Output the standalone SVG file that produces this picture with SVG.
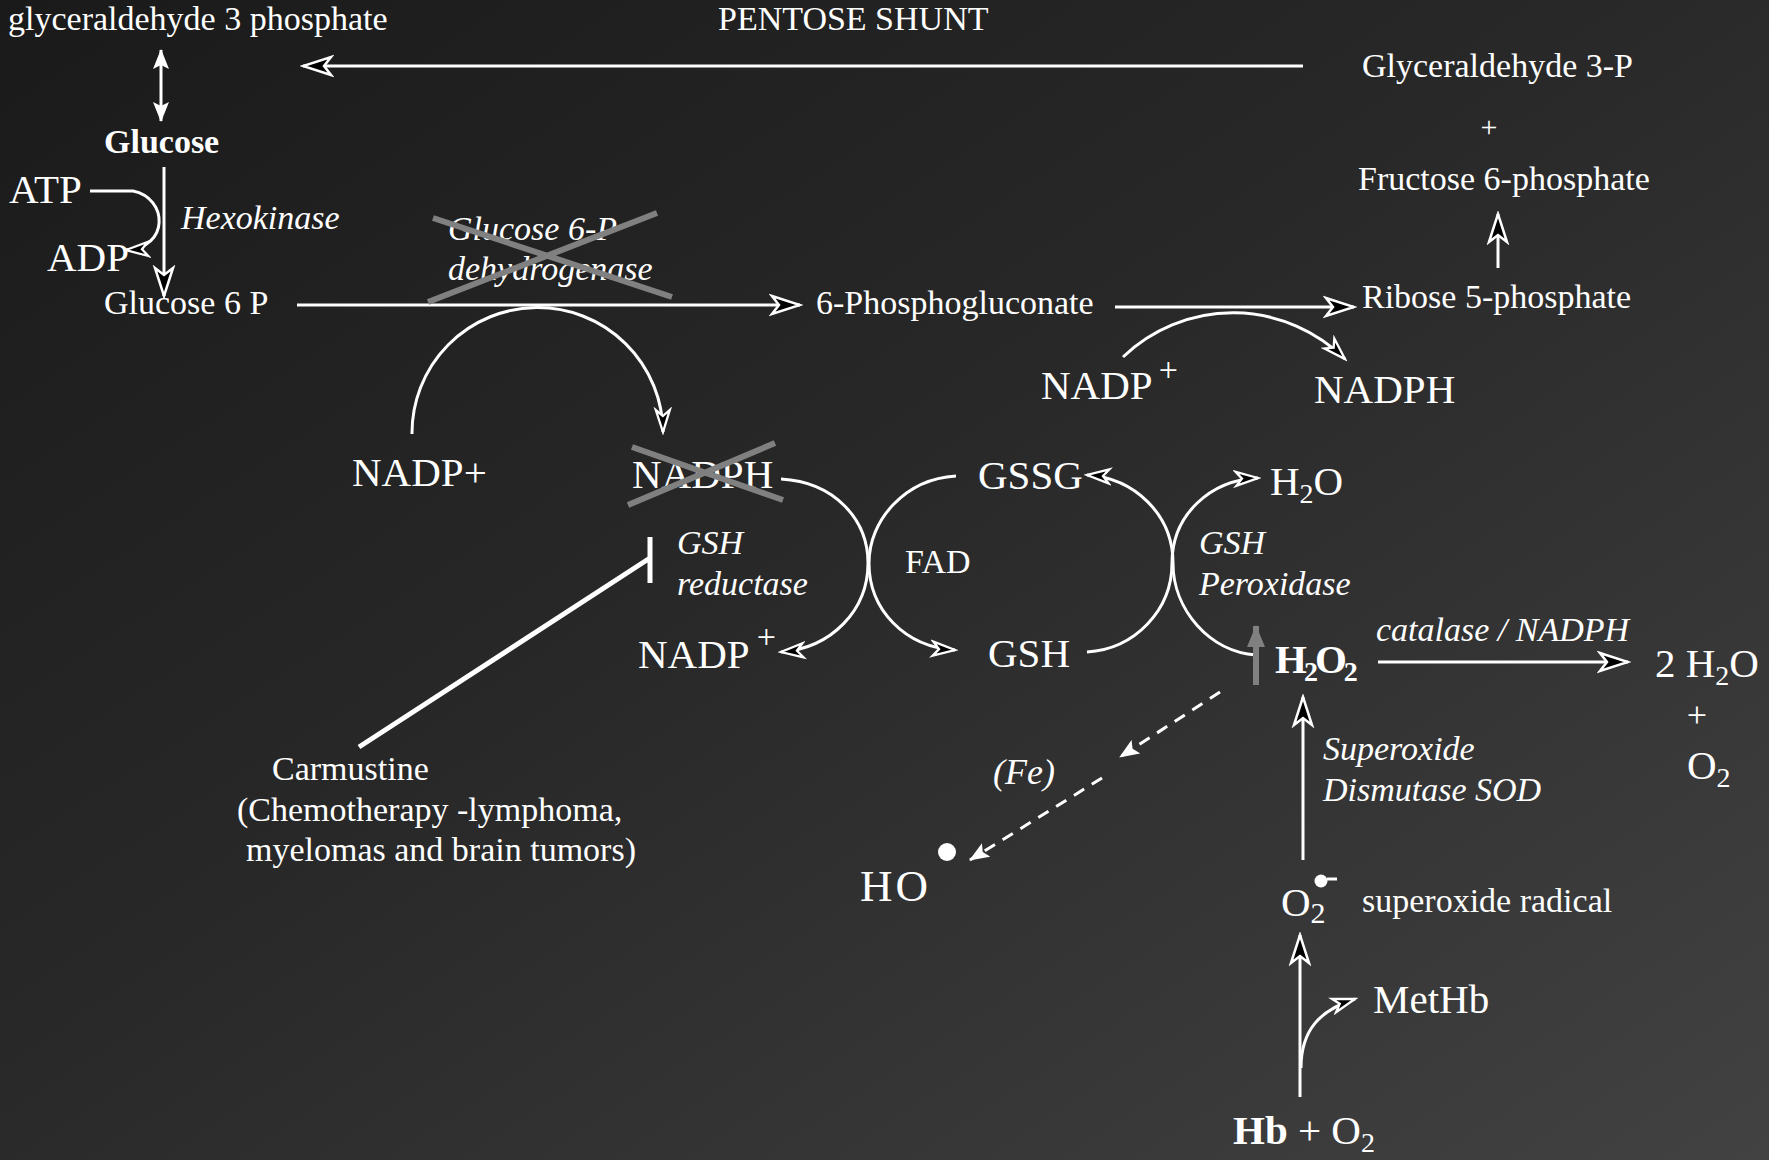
<svg xmlns="http://www.w3.org/2000/svg" width="1769" height="1160" viewBox="0 0 1769 1160">
<defs>
<linearGradient id="bg" x1="0" y1="0" x2="1" y2="1">
<stop offset="0" stop-color="#1a1a1a"/>
<stop offset="0.45" stop-color="#282828"/>
<stop offset="1" stop-color="#424242"/>
</linearGradient>
<marker id="ah" markerUnits="userSpaceOnUse" viewBox="-3 -3 34 24" markerWidth="34" markerHeight="24" refX="28" refY="9" orient="auto">
<path d="M0,0 L28,9 L0,18 L7,9 Z" fill="#000" stroke="#fff" stroke-width="2.5" stroke-linejoin="miter"/>
</marker>
<marker id="ahs" markerUnits="userSpaceOnUse" viewBox="-3 -3 28 20" markerWidth="28" markerHeight="20" refX="22" refY="7" orient="auto">
<path d="M0,0 L22,7 L0,14 L6,7 Z" fill="#000" stroke="#fff" stroke-width="2.3"/>
</marker>
<marker id="wt" markerUnits="userSpaceOnUse" viewBox="0 0 20 16" markerWidth="20" markerHeight="16" refX="19" refY="8" orient="auto-start-reverse">
<path d="M0,0 L20,8 L0,16 L4,8 Z" fill="#fff"/>
</marker>
<marker id="gt" markerUnits="userSpaceOnUse" viewBox="0 0 22 18" markerWidth="22" markerHeight="18" refX="21" refY="9" orient="auto">
<path d="M0,0 L22,9 L0,18 Z" fill="#808080"/>
</marker>
</defs>
<style>
text{font-family:"Liberation Serif","Times New Roman",serif;fill:#fff;font-size:34px}
.b{font-weight:bold}
.i{font-style:italic}
.L{font-size:41px}
.XL{font-size:45px}
.sub{font-size:28px}
.sup{font-size:34px}
.p30{font-size:30px}
.p36{font-size:36px}
.c{fill:none;stroke:#fff;stroke-width:3}
.x{stroke:#808080;stroke-width:6;fill:none}
</style>
<rect width="1769" height="1160" fill="url(#bg)"/>

<g id="connectors">
<path class="c" d="M161,121 V50" marker-start="url(#wt)" marker-end="url(#wt)"/>
<path class="c" d="M1303,66 H303" marker-end="url(#ah)"/>
<path class="c" d="M90,191 H133 C168,198 170,248 126,250" marker-end="url(#ahs)"/>
<path class="c" d="M164,167 V296" marker-end="url(#ah)"/>
<path class="c" d="M297,305 H800" marker-end="url(#ah)"/>
<path class="c" d="M412,434 A125,125 0 0 1 663,432" marker-end="url(#ahs)"/>
<path class="c" d="M1115,307 H1354" marker-end="url(#ah)"/>
<path class="c" d="M1123,357 A159,159 0 0 1 1345,359" marker-end="url(#ahs)"/>
<path class="c" d="M1498,268 V214" marker-end="url(#ah)"/>
<path class="c" d="M781,479 C835,482 868,520 868,563 C868,610 832,648 781,652" marker-end="url(#ahs)"/>
<path class="c" d="M956,476 C905,479 869,520 869,563 C869,610 905,647 955,650" marker-end="url(#ahs)"/>
<path class="c" d="M1087,652 C1135,649 1172,610 1172,563 C1172,515 1210,480 1258,478" marker-end="url(#ahs)"/>
<path class="c" d="M1256,655 C1210,652 1173,610 1173,563 C1173,515 1135,478 1087,475" marker-end="url(#ahs)"/>
<path class="c" d="M359,747 L650,558 M650,537 V583" style="stroke-width:5"/>
<path d="M1256,685 V626" stroke="#808080" stroke-width="6" marker-end="url(#gt)"/>
<path class="c" d="M1378,662 H1628" marker-end="url(#ah)"/>
<path class="c" d="M1220,692 L1120,757" stroke-dasharray="12,9" marker-end="url(#wt)"/>
<path class="c" d="M1102,778 L970,860" stroke-dasharray="12,9" marker-end="url(#wt)"/>
<path class="c" d="M1303,860 V697" marker-end="url(#ah)"/>
<path class="c" d="M1300,1097 V935" marker-end="url(#ah)"/>
<path class="c" d="M1301,1068 C1301,1030 1320,1010 1355,999" marker-end="url(#ahs)"/>
</g>

<g id="g3p-left"><text x="8" y="30">glyceraldehyde 3 phosphate</text></g>
<g id="pentose-shunt"><text x="718" y="30">PENTOSE SHUNT</text></g>
<g id="g3p-right"><text x="1362" y="77">Glyceraldehyde 3-P</text></g>
<g id="plus-top"><text class="p30" x="1489" y="137" text-anchor="middle">+</text></g>
<g id="f6p"><text x="1358" y="190">Fructose 6-phosphate</text></g>
<g id="r5p"><text x="1362" y="308">Ribose 5-phosphate</text></g>
<g id="glucose"><text class="b" x="104" y="153">Glucose</text></g>
<g id="atp"><text class="L" x="9" y="203">ATP</text></g>
<g id="adp"><text class="L" x="47" y="271">ADP</text></g>
<g id="hexokinase"><text class="i" x="181" y="229">Hexokinase</text></g>
<g id="g6p"><text x="104" y="314">Glucose 6 P</text></g>
<g id="g6pd">
<text class="i" x="448" y="240">Glucose 6-P</text>
<text class="i" x="448" y="280">dehydrogenase</text>
<path class="x" d="M433,218 L672,297 M428,302 L657,213"/>
</g>
<g id="pgluconate"><text x="816" y="314">6-Phosphogluconate</text></g>
<g id="nadp-top"><text class="L" x="1041" y="399">NADP<tspan class="sup" dx="6" dy="-18">+</tspan></text></g>
<g id="nadph-top"><text class="L" x="1314" y="403">NADPH</text></g>
<g id="nadp-left"><text class="L" x="352" y="486">NADP+</text></g>
<g id="nadph-crossed">
<text class="L" x="632" y="488">NADPH</text>
<path class="x" d="M632,447 L783,500 M628,505 L775,443"/>
</g>
<g id="gsh-reductase">
<text class="i" x="677" y="554">GSH</text>
<text class="i" x="677" y="595">reductase</text>
</g>
<g id="nadp-bottom"><text class="L" x="638" y="668">NADP<tspan class="sup" dx="7" dy="-20">+</tspan></text></g>
<g id="fad"><text x="905" y="573">FAD</text></g>
<g id="gssg"><text class="L" x="978" y="489">GSSG</text></g>
<g id="gsh"><text class="L" x="988" y="667">GSH</text></g>
<g id="h2o-top"><text class="L" x="1270" y="495">H<tspan class="sub" dy="8">2</tspan><tspan dy="-8">O</tspan></text></g>
<g id="gsh-peroxidase">
<text class="i" x="1199" y="554">GSH</text>
<text class="i" x="1199" y="595">Peroxidase</text>
</g>
<g id="h2o2"><text class="L b" x="1275" y="673" letter-spacing="-3">H<tspan class="sub" dy="8">2</tspan><tspan dy="-8">O</tspan><tspan class="sub" dy="8">2</tspan></text></g>
<g id="catalase"><text class="i" x="1376" y="641">catalase / NADPH</text></g>
<g id="products">
<text class="L" x="1655" y="677">2 H<tspan class="sub" dy="8">2</tspan><tspan dy="-8">O</tspan></text>
<text class="p36" x="1697" y="727" text-anchor="middle">+</text>
<text class="L" x="1687" y="779">O<tspan class="sub" dy="8">2</tspan></text>
</g>
<g id="fe"><text class="i p36" x="993" y="784">(Fe)</text></g>
<g id="ho">
<text class="XL" x="860" y="901" letter-spacing="3">HO</text>
<circle cx="947" cy="852" r="9" fill="#fff"/>
</g>
<g id="sod">
<text class="i" x="1323" y="760">Superoxide</text>
<text class="i" x="1323" y="801">Dismutase SOD</text>
</g>
<g id="superoxide">
<text class="L" x="1281" y="916">O<tspan class="p30" dy="7">2</tspan></text>
<circle cx="1321" cy="881" r="6.5" fill="#fff"/>
<path d="M1327,879 H1337" stroke="#fff" stroke-width="3"/>
</g>
<g id="superoxide-label"><text x="1362" y="912">superoxide radical</text></g>
<g id="methb"><text class="L" x="1373" y="1013">MetHb</text></g>
<g id="hb"><text class="L" x="1233" y="1144"><tspan class="b">Hb</tspan> + O<tspan class="sub" dy="8">2</tspan></text></g>
<g id="carmustine">
<text x="272" y="780">Carmustine</text>
<text x="237" y="821">(Chemotherapy -lymphoma,</text>
<text x="246" y="861">myelomas and brain tumors)</text>
</g>
</svg>
